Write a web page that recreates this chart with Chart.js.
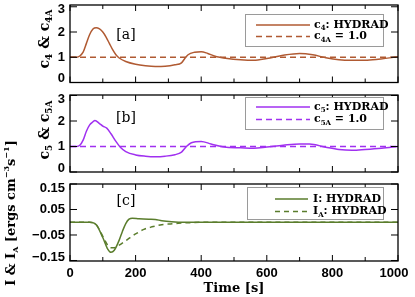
<!DOCTYPE html>
<html>
<head>
<meta charset="utf-8">
<script src="https://cdn.jsdelivr.net/npm/chart.js@4.4.0/dist/chart.umd.min.js"></script>
<style>
html, body { margin: 0; padding: 0; background: #fff; }
#wrap { position: relative; width: 415px; height: 297px; }
canvas { position: absolute; left: 0; top: 0; }
</style>
</head>
<body>
<div id="wrap">
  <canvas id="pa" width="415" height="297"></canvas>
  <canvas id="pb" width="415" height="297"></canvas>
  <canvas id="pc" width="415" height="297"></canvas>
</div>
<script>
// panel [a]: c4 from HYDRAD
const c4Time = [0, 20, 30, 40, 50, 60, 70, 80, 90, 100, 110, 120, 130, 140, 150, 170, 200, 230, 260, 290, 320, 340, 350, 360, 380, 400, 420, 440, 480, 520, 560, 600, 650, 700, 740, 780, 820, 860, 900, 940, 1000];
const c4Val  = [1.0, 1.0, 1.05, 1.2, 1.55, 1.9, 2.12, 2.17, 2.12, 2.0, 1.8, 1.55, 1.3, 1.1, 0.97, 0.83, 0.72, 0.66, 0.63, 0.64, 0.7, 0.78, 0.95, 1.1, 1.2, 1.22, 1.15, 1.05, 0.95, 0.9, 0.88, 0.95, 1.08, 1.15, 1.1, 0.98, 0.9, 0.88, 0.88, 0.92, 1.02];
// panel [b]: c5 from HYDRAD
const c5Time = [0, 20, 30, 40, 50, 60, 70, 76, 90, 100, 112, 125, 140, 155, 170, 200, 230, 260, 290, 320, 340, 355, 370, 400, 430, 470, 520, 560, 600, 650, 700, 730, 780, 820, 860, 900, 950, 1000];
const c5Val  = [1.0, 1.0, 1.05, 1.25, 1.6, 1.85, 1.97, 2.02, 1.9, 1.8, 1.72, 1.5, 1.2, 0.95, 0.8, 0.67, 0.62, 0.6, 0.62, 0.68, 0.78, 1.0, 1.15, 1.2, 1.1, 0.98, 0.95, 0.93, 0.98, 1.05, 1.1, 1.1, 0.97, 0.88, 0.85, 0.88, 0.93, 1.0];
// constant approximations c4A = c5A = 1.0
const refTime = [0, 1000];
const refVal  = [1.0, 1.0];
// panel [c]: I and I_A
const iTime = [0, 60, 80, 100, 115, 125, 135, 150, 160, 170, 180, 190, 210, 240, 260, 280, 310, 350, 1000];
const iVal  = [0, 0, -0.01, -0.06, -0.105, -0.118, -0.11, -0.07, -0.035, -0.005, 0.012, 0.016, 0.014, 0.012, 0.011, 0.006, 0.002, 0, 0];
const iaTime = [0, 60, 80, 100, 115, 125, 135, 150, 175, 200, 225, 250, 275, 300, 330, 380, 420, 1000];
const iaVal  = [0, 0, -0.01, -0.055, -0.09, -0.1, -0.1, -0.09, -0.068, -0.046, -0.028, -0.018, -0.011, -0.007, -0.004, -0.001, 0, 0];

const xTicks = [0, 200, 400, 600, 800, 1000];
const cTicksAB = [0, 1, 2, 3];
const iTicks = [0.15, 0.05, -0.05, -0.15];

const serif = '"DejaVu Serif"';
const sans = '"Liberation Sans"';
const brown = '#b05a32', purple = '#a030f0', green = '#5a7d2c';

const pts = (t, v) => t.map((x, i) => ({ x: x, y: v[i] }));

// text with sub/superscripts, segs = [{t, k}] k: 'b' sub, 'p' sup
function richWidth(ctx, segs, size, weight) {
  let w = 0;
  segs.forEach(s => {
    ctx.font = weight + ' ' + (s.k ? Math.round(size * 0.62) : size) + 'px ' + serif;
    w += ctx.measureText(s.t).width;
  });
  return w;
}
function drawRich(ctx, segs, x, y, size, weight) {
  ctx.textBaseline = 'middle';
  ctx.textAlign = 'left';
  segs.forEach(s => {
    let dy = 0;
    if (s.k == 'b') dy = size * 0.3;
    if (s.k == 'p') dy = -size * 0.4;
    ctx.font = weight + ' ' + (s.k ? Math.round(size * 0.62) : size) + 'px ' + serif;
    ctx.fillText(s.t, x, y + dy);
    x += ctx.measureText(s.t).width;
  });
}

const frame = {
  id: 'frame',
  afterDatasetsDraw(chart, args, o) {
    const ctx = chart.ctx, a = chart.chartArea;
    const xs = chart.scales.x, ys = chart.scales.y;
    ctx.save();
    ctx.fillStyle = '#000';
    ctx.strokeStyle = '#000';
    ctx.lineWidth = 1.3;
    ctx.strokeRect(a.left, a.top, a.right - a.left, a.bottom - a.top);
    ctx.lineWidth = 1;
    ctx.beginPath();
    for (let t = xs.min; t <= xs.max; t += 100) {
      const px = xs.getPixelForValue(t);
      const L = t % 200 == 0 ? 6 : 4;
      ctx.moveTo(px, a.bottom); ctx.lineTo(px, a.bottom - L);
      ctx.moveTo(px, a.top); ctx.lineTo(px, a.top + L);
    }
    o.yTicks.forEach(v => {
      const py = ys.getPixelForValue(v);
      ctx.moveTo(a.left, py); ctx.lineTo(a.left + 7, py);
      ctx.moveTo(a.right, py); ctx.lineTo(a.right - 7, py);
    });
    ctx.stroke();

    // tick labels, edge ones pulled inward
    ctx.font = 'bold 13px ' + sans;
    ctx.textAlign = 'right';
    ctx.textBaseline = 'middle';
    o.yTicks.forEach(v => {
      let py = ys.getPixelForValue(v);
      py = Math.min(Math.max(py, a.top + 4.5), a.bottom - 4);
      ctx.fillText(o.fmt(v), a.left - 5, py);
    });
    if (o.xLabels) {
      ctx.textAlign = 'center';
      xTicks.forEach(v => {
        let px = xs.getPixelForValue(v);
        px = Math.min(px, a.right - 4);
        ctx.fillText(String(v), px, a.bottom + 12);
      });
      ctx.font = 'bold 13px ' + serif;
      ctx.fillText('Time [s]', (a.left + a.right) / 2, a.bottom + 28);
    }

    // panel tag
    ctx.font = '14px ' + serif;
    ctx.textAlign = 'center';
    ctx.textBaseline = 'middle';
    ctx.fillText(o.tag[0], o.tag[1], o.tag[2]);

    // legend box
    const b = o.legend;
    ctx.fillStyle = '#fff';
    ctx.fillRect(b.x, b.y, b.w, b.h);
    ctx.strokeStyle = '#9a9a9a';
    ctx.lineWidth = 1;
    ctx.strokeRect(b.x + 0.5, b.y + 0.5, b.w, b.h);
    b.rows.forEach(r => {
      ctx.strokeStyle = r.color;
      ctx.lineWidth = 1.5;
      ctx.setLineDash(r.dash);
      ctx.beginPath();
      ctx.moveTo(b.lx0, r.y); ctx.lineTo(b.lx1, r.y);
      ctx.stroke();
      ctx.setLineDash([]);
      ctx.fillStyle = '#000';
      drawRich(ctx, r.segs, b.tx, r.y, 11, 'bold');
    });

    // rotated y title
    const yt = o.ytitle;
    ctx.translate(yt.x, yt.y);
    ctx.rotate(-Math.PI / 2);
    ctx.fillStyle = '#000';
    const w = richWidth(ctx, yt.segs, yt.size, 'bold');
    drawRich(ctx, yt.segs, -w / 2, 0, yt.size, 'bold');
    ctx.restore();
  }
};

function makePanel(id, pad, yMin, yMax, datasets, fo) {
  return new Chart(document.getElementById(id), {
    type: 'line',
    data: { datasets: datasets },
    options: {
      responsive: false,
      animation: false,
      devicePixelRatio: 1,
      layout: { padding: pad },
      elements: { point: { radius: 0 }, line: { borderWidth: 1.5, cubicInterpolationMode: 'monotone' } },
      scales: {
        x: { type: 'linear', min: 0, max: 1000, display: false },
        y: { type: 'linear', min: yMin, max: yMax, display: false }
      },
      plugins: { legend: { display: false }, tooltip: { enabled: false }, frame: fo }
    },
    plugins: [frame]
  });
}

makePanel('pa', { left: 70, right: 17, top: 5, bottom: 214.5 }, 0, 3.07, [
  { data: pts(c4Time, c4Val), borderColor: brown },
  { data: pts(refTime, refVal), borderColor: brown, borderDash: [6, 4] }
], {
  yTicks: cTicksAB, fmt: v => String(v), xLabels: false,
  tag: ['[a]', 126, 35],
  legend: { x: 245, y: 14, w: 138, h: 32, lx0: 256, lx1: 310, tx: 314, rows: [
    { y: 25, color: brown, dash: [], segs: [{ t: 'c' }, { t: '4', k: 'b' }, { t: ': HYDRAD' }] },
    { y: 36.5, color: brown, dash: [6, 4], segs: [{ t: 'c' }, { t: '4A', k: 'b' }, { t: ' = 1.0' }] }
  ] },
  ytitle: { x: 45, y: 39, size: 14, segs: [{ t: 'c' }, { t: '4', k: 'b' }, { t: ' & c' }, { t: '4A', k: 'b' }] }
});

makePanel('pb', { left: 70, right: 17, top: 95, bottom: 125 }, 0, 3.02, [
  { data: pts(c5Time, c5Val), borderColor: purple },
  { data: pts(refTime, refVal), borderColor: purple, borderDash: [6, 4] }
], {
  yTicks: cTicksAB, fmt: v => String(v), xLabels: false,
  tag: ['[b]', 126, 118],
  legend: { x: 245, y: 97, w: 138, h: 32, lx0: 256, lx1: 310, tx: 314, rows: [
    { y: 107, color: purple, dash: [], segs: [{ t: 'c' }, { t: '5', k: 'b' }, { t: ': HYDRAD' }] },
    { y: 119.5, color: purple, dash: [6, 4], segs: [{ t: 'c' }, { t: '5A', k: 'b' }, { t: ' = 1.0' }] }
  ] },
  ytitle: { x: 45, y: 130, size: 14, segs: [{ t: 'c' }, { t: '5', k: 'b' }, { t: ' & c' }, { t: '5A', k: 'b' }] }
});

makePanel('pc', { left: 70, right: 17, top: 184, bottom: 36 }, -0.152, 0.15, [
  { data: pts(iTime, iVal), borderColor: green },
  { data: pts(iaTime, iaVal), borderColor: green, borderDash: [5, 4] }
], {
  yTicks: iTicks, fmt: v => (v < 0 ? '\u2212' : '') + Math.abs(v).toFixed(2), xLabels: true,
  tag: ['[c]', 126, 201],
  legend: { x: 247, y: 187, w: 136, h: 32, lx0: 275, lx1: 308, tx: 313, rows: [
    { y: 199, color: green, dash: [], segs: [{ t: 'I: HYDRAD' }] },
    { y: 211.5, color: green, dash: [5, 4], segs: [{ t: 'I' }, { t: 'A', k: 'b' }, { t: ': HYDRAD' }] }
  ] },
  ytitle: { x: 12, y: 213, size: 13, segs: [{ t: 'I & I' }, { t: 'A', k: 'b' }, { t: ' [ergs cm' }, { t: '\u22123', k: 'p' }, { t: 's' }, { t: '\u22121', k: 'p' }, { t: ']' }] }
});
</script>
</body>
</html>
